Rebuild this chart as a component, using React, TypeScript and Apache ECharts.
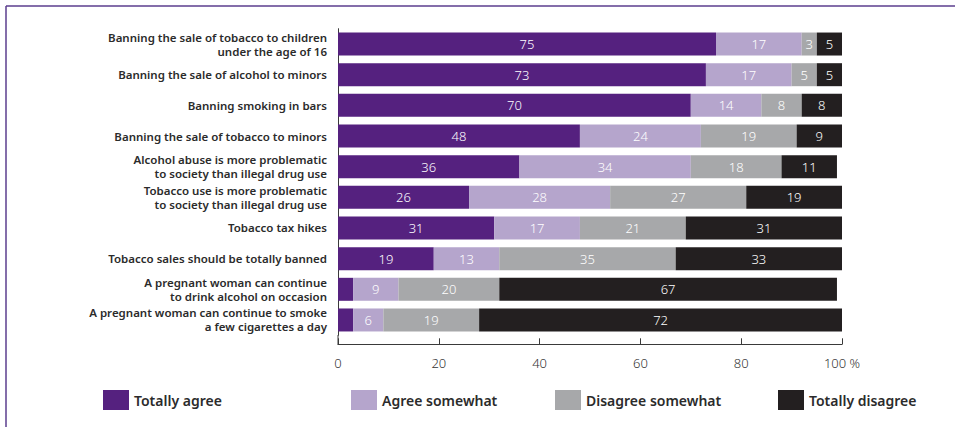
import React, { useEffect, useRef } from "react";
import * as echarts from "echarts";

const categories = [
  "Banning the sale of tobacco to children\nunder the age of 16",
  "Banning the sale of alcohol to minors",
  "Banning smoking in bars",
  "Banning the sale of tobacco to minors",
  "Alcohol abuse is more problematic\nto society than illegal drug use",
  "Tobacco use is more problematic\nto society than illegal drug use",
  "Tobacco tax hikes",
  "Tobacco sales should be totally banned",
  "A pregnant woman can continue\nto drink alcohol on occasion",
  "A pregnant woman can continue to smoke\na few cigarettes a day",
];

const totallyAgree = [75, 73, 70, 48, 36, 26, 31, 19, 3, 3];
const agreeSomewhat = [17, 17, 14, 24, 34, 28, 17, 13, 9, 6];
const disagreeSomewhat = [3, 5, 8, 19, 18, 27, 21, 35, 20, 19];
const totallyDisagree = [5, 5, 8, 9, 11, 19, 31, 33, 67, 72];
// rows (index) where the "Totally agree" value label is not printed
const hiddenAgreeLabels = [8, 9];

const seriesNames = ["Totally agree", "Agree somewhat", "Disagree somewhat", "Totally disagree"];
const seriesColors = ["#55217f", "#b5a5cc", "#a7a8aa", "#231f20"];
const xTicks = [0, 20, 40, 60, 80, 100];

const FONT = "'Noto Sans', 'Open Sans', sans-serif";

export default function App() {
  const ref = useRef<HTMLDivElement>(null);
  useEffect(() => {
    if (!ref.current) return;
    const chart = echarts.init(ref.current, null, { renderer: "svg" });
    const allData = [totallyAgree, agreeSomewhat, disagreeSomewhat, totallyDisagree];
    const series = allData.map((vals, si) => ({
      name: seriesNames[si],
      type: "bar",
      stack: "total",
      barCategoryGap: "25%",
      itemStyle: { color: seriesColors[si] },
      label: {
        show: true,
        position: "inside",
        color: "#ffffff",
        fontFamily: FONT,
        fontSize: 13,
        fontWeight: 300,
      },
      data: vals.map((v, i) =>
        si === 0 && hiddenAgreeLabels.includes(i) ? { value: v, label: { show: false } } : v
      ),
    }));
    const legendLefts = [103, 351, 555, 778];
    chart.setOption({
      animation: false,
      grid: {
        left: 338,
        right: 113,
        top: 28.7,
        bottom: 91.7,
        containLabel: false,
        outerBoundsMode: "none",
      },
      xAxis: {
        type: "value",
        min: 0,
        max: 100,
        interval: 20,
        offset: 9,
        axisLine: { show: true, lineStyle: { color: "#3a3a3a", width: 1 } },
        axisTick: { show: true, inside: true, length: 6, lineStyle: { color: "#3a3a3a" } },
        splitLine: { show: false },
        axisLabel: {
          margin: 12,
          color: "#333",
          fontFamily: FONT,
          fontSize: 13,
          fontWeight: 300,
          formatter: (v: number) => (v === xTicks[xTicks.length - 1] ? v + " %" : String(v)),
        },
      },
      yAxis: {
        type: "category",
        inverse: true,
        data: categories,
        axisLine: { show: true, lineStyle: { color: "#3a3a3a", width: 1 } },
        axisTick: { show: false },
        axisLabel: {
          margin: 11,
          color: "#2b2b2b",
          fontFamily: FONT,
          fontSize: 11.5,
          fontWeight: 600,
          lineHeight: 14,
          align: "right",
        },
      },
      legend: seriesNames.map((n, i) => ({
        data: [n],
        left: legendLefts[i],
        top: 390,
        padding: 0,
        itemWidth: 26,
        itemHeight: 20,
        itemGap: 6,
        icon: "rect",
        selectedMode: false,
        textStyle: { color: "#2b2b2b", fontFamily: FONT, fontSize: 14, fontWeight: 600 },
      })),
      graphic: [
        { type: "line", shape: { x1: 6, y1: 6, x2: 955, y2: 6 }, style: { stroke: "#5b3e8e", lineWidth: 1.5 } },
        { type: "line", shape: { x1: 6, y1: 6, x2: 6, y2: 427 }, style: { stroke: "#5b3e8e", lineWidth: 1.5 } },
        { type: "line", shape: { x1: 338, y1: 335, x2: 338, y2: 344.5 }, style: { stroke: "#3a3a3a", lineWidth: 1 } },
      ],
      series,
    });
    return () => chart.dispose();
  }, []);
  return (
    <div
      ref={ref}
      style={{ position: "fixed", left: 0, top: 0, width: 955, height: 427, background: "#fff" }}
    />
  );
}
